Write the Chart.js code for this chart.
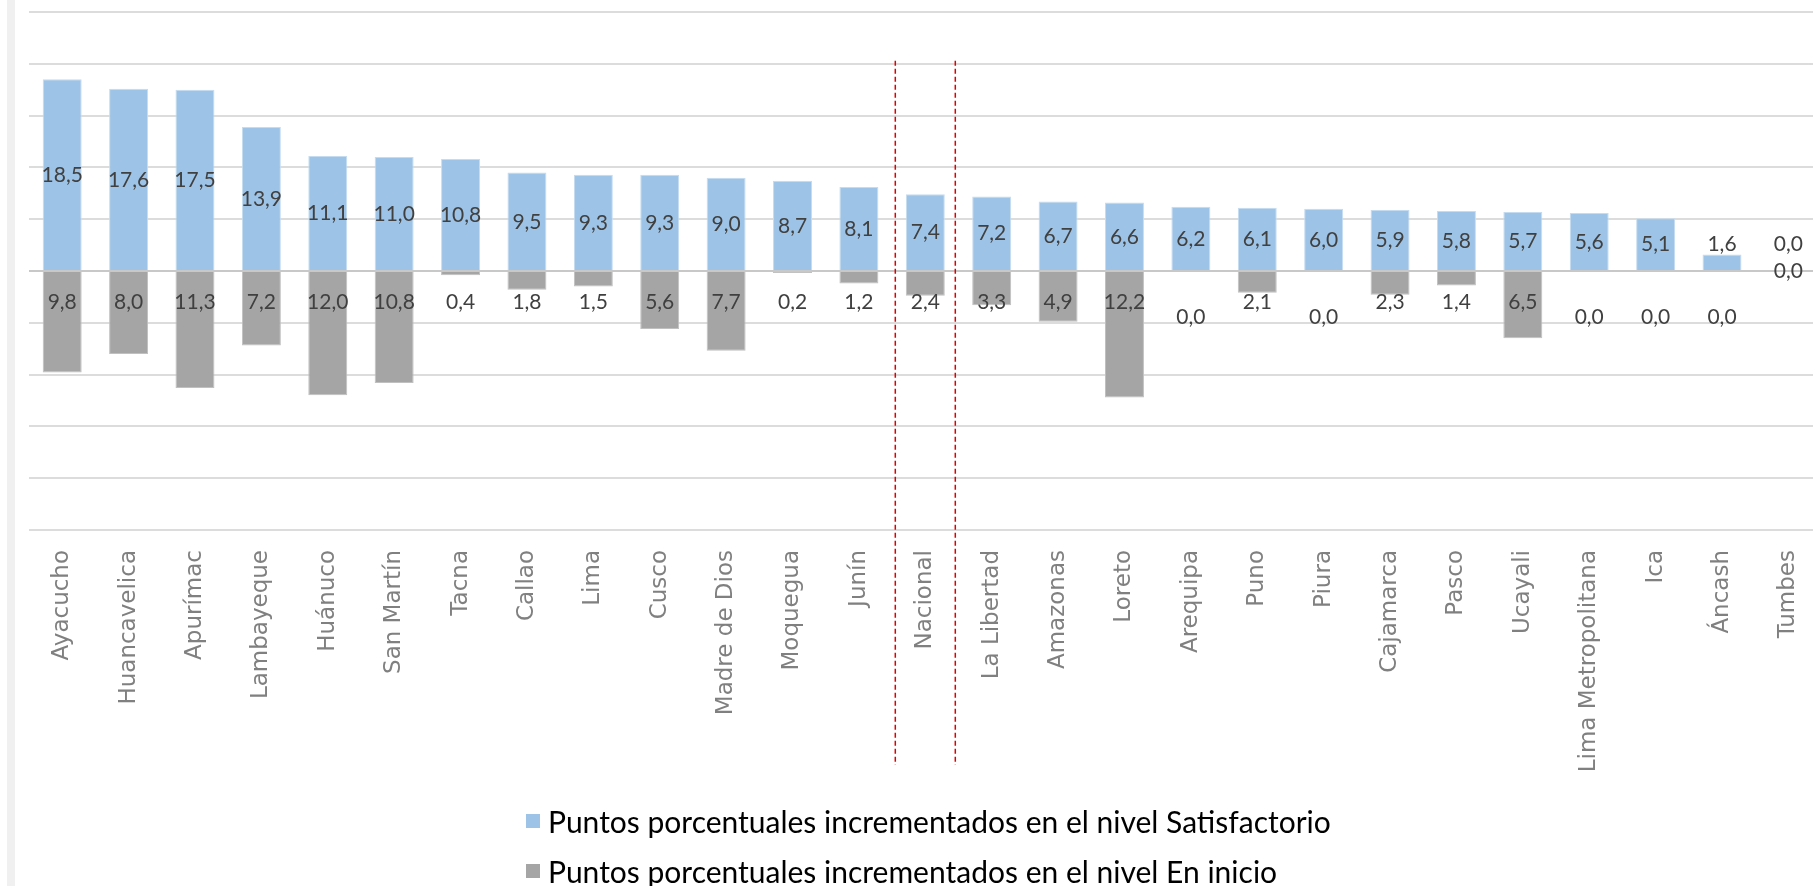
<!DOCTYPE html>
<html>
<head>
<meta charset="utf-8">
<script src="https://cdn.jsdelivr.net/npm/chart.js@4.4.1/dist/chart.umd.min.js"></script>
<style>
  html, body { margin: 0; padding: 0; background: #fff; overflow: hidden; }
  #wrap { position: relative; width: 1813px; height: 886px; overflow: hidden; }
  #chart { position: absolute; left: 0; top: 0; }
  #frame { position: absolute; left: 7px; top: 0; width: 8px; height: 886px; background: #f0f0f0; }
  #legend { position: absolute; left: 526px; top: 796px; font-family: Lato, "Open Sans", sans-serif; font-size: 30px; color: #000; }
  .item { display: flex; align-items: center; height: 50px; }
  .box { width: 14px; height: 14px; margin-right: 8px; }
</style>
</head>
<body>
<div id="wrap">
  <canvas id="chart" width="1836" height="886"></canvas>
  <div id="frame"></div>
  <div id="legend"></div>
</div>
<script>
const regiones = ["Ayacucho", "Huancavelica", "Apurímac", "Lambayeque", "Huánuco", "San Martín", "Tacna",
  "Callao", "Lima", "Cusco", "Madre de Dios", "Moquegua", "Junín", "Nacional", "La Libertad", "Amazonas",
  "Loreto", "Arequipa", "Puno", "Piura", "Cajamarca", "Pasco", "Ucayali", "Lima Metropolitana", "Ica",
  "Áncash", "Tumbes"];
const satisfactorio = [18.5, 17.6, 17.5, 13.9, 11.1, 11.0, 10.8, 9.5, 9.3, 9.3, 9.0, 8.7, 8.1, 7.4, 7.2,
  6.7, 6.6, 6.2, 6.1, 6.0, 5.9, 5.8, 5.7, 5.6, 5.1, 1.6, 0.0];
const enInicio = [9.8, 8.0, 11.3, 7.2, 12.0, 10.8, 0.4, 1.8, 1.5, 5.6, 7.7, 0.2, 1.2, 2.4, 3.3,
  4.9, 12.2, 0.0, 2.1, 0.0, 2.3, 1.4, 6.5, 0.0, 0.0, 0.0, 0.0];
const nombreSerie = ["Puntos porcentuales incrementados en el nivel Satisfactorio",
  "Puntos porcentuales incrementados en el nivel En inicio"];
const colores = ["#9dc3e6", "#a5a5a5"];

function fmt(v) {
  return v.toFixed(1).replace(".", ",");
}

// etiquetas de datos al estilo Excel
const etiquetas = {
  id: "etiquetas",
  afterDatasetsDraw(chart) {
    const ctx = chart.ctx;
    const y = chart.scales.y;
    ctx.save();
    ctx.font = "21px Lato";
    ctx.fillStyle = "#404040";
    ctx.textAlign = "center";
    ctx.textBaseline = "middle";
    chart.getDatasetMeta(0).data.forEach((bar, i) => {
      const v = satisfactorio[i];
      const py = v < 3 ? y.getPixelForValue(2.6) : y.getPixelForValue(v / 2);
      ctx.fillText(fmt(v), bar.x, py);
    });
    chart.getDatasetMeta(1).data.forEach((bar, i) => {
      const v = enInicio[i];
      let py = y.getPixelForValue(-3);
      if (v === 0) py = satisfactorio[i] === 0 ? y.getPixelForValue(0) : y.getPixelForValue(-4.5);
      ctx.fillText(fmt(v), bar.x, py);
    });
    ctx.restore();
  }
};

// líneas punteadas alrededor de "Nacional"
const separadores = {
  id: "separadores",
  afterDatasetsDraw(chart) {
    const ctx = chart.ctx;
    const x = chart.scales.x;
    const y = chart.scales.y;
    const i = regiones.indexOf("Nacional");
    const c = x.getPixelForValue(i);
    const top = y.getPixelForValue(20.3);
    const bottom = chart.height - 121;
    ctx.save();
    ctx.strokeStyle = "#e00000";
    ctx.lineWidth = 1.5;
    ctx.setLineDash([5, 3]);
    [c - 30, c + 30].forEach((px) => {
      ctx.beginPath();
      ctx.moveTo(px, top);
      ctx.lineTo(px, bottom);
      ctx.stroke();
    });
    ctx.restore();
  }
};

const legend = document.getElementById("legend");
nombreSerie.forEach((name, i) => {
  const row = document.createElement("div");
  row.className = "item";
  row.innerHTML = `<span class="box" style="background:${colores[i]}"></span><span>${name}</span>`;
  legend.appendChild(row);
});

new Chart(document.getElementById("chart").getContext("2d"), {
  type: "bar",
  data: {
    labels: regiones,
    datasets: [
      {
        label: nombreSerie[0],
        data: satisfactorio,
        backgroundColor: colores[0],
        borderColor: "#c5dcf0",
        borderWidth: 1,
      },
      {
        label: nombreSerie[1],
        data: enInicio.map((v) => -v),
        backgroundColor: colores[1],
        borderColor: "#c0c0c0",
        borderWidth: 1,
      },
    ],
  },
  options: {
    responsive: false,
    animation: false,
    barPercentage: 0.587,
    categoryPercentage: 1,
    layout: { padding: { left: 29, right: 0, top: 12, bottom: 0 } },
    plugins: {
      legend: { display: false },
      tooltip: { enabled: false },
    },
    scales: {
      x: {
        stacked: true,
        grid: { display: false, drawTicks: false },
        border: { display: false },
        ticks: {
          minRotation: 90,
          maxRotation: 90,
          autoSkip: false,
          padding: 20,
          color: "#808080",
          font: { family: "DejaVu Sans", size: 23 },
        },
        afterFit(scale) {
          scale.height = 356;
        },
      },
      y: {
        stacked: true,
        min: -25,
        max: 25,
        ticks: { display: false, stepSize: 5 },
        border: { display: false },
        grid: {
          drawTicks: false,
          lineWidth: 2,
          color: (c) => (c.tick && c.tick.value === 0 ? "#c8c8c8" : "#dcdcdc"),
        },
        afterFit(scale) {
          scale.width = 0;
        },
      },
    },
  },
  plugins: [etiquetas, separadores],
});
</script>
</body>
</html>
